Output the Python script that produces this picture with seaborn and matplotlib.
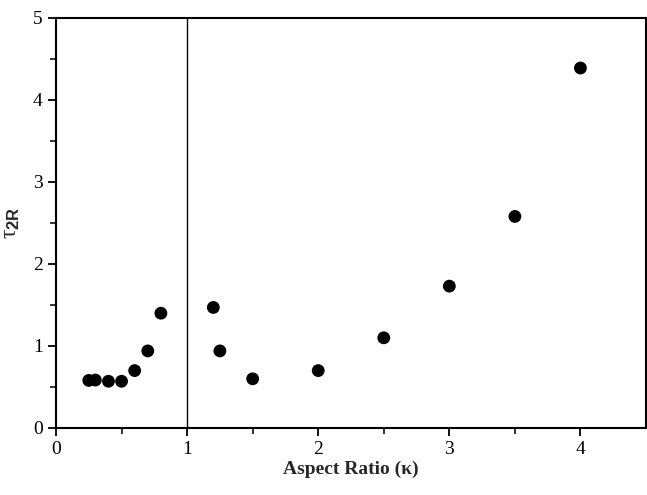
import seaborn as sns
import matplotlib.pyplot as plt
import pandas as pd

# Aspect ratio and tau_2R
aspect_ratio = [0.25, 0.3, 0.4, 0.5, 0.6, 0.7, 0.8, 1.2, 1.25, 1.5, 2.0, 2.5, 3.0, 3.5, 4.0]
tau_2r = [0.58, 0.585, 0.57, 0.57, 0.70, 0.94, 1.40, 1.47, 0.94, 0.60, 0.70, 1.10, 1.73, 2.58, 4.39]

x_ticks = [0, 1, 2, 3, 4]
y_ticks = [0, 1, 2, 3, 4, 5]

df = pd.DataFrame({"kappa": aspect_ratio, "tau": tau_2r})

sns.set_style("ticks")
plt.rcParams['font.family'] = ['Liberation Serif', 'DejaVu Serif']
plt.rcParams['mathtext.fontset'] = 'custom'
plt.rcParams['mathtext.rm'] = 'Liberation Sans'
plt.rcParams['mathtext.bf'] = 'Liberation Sans:bold'
plt.rcParams['mathtext.it'] = 'Liberation Serif:italic'

fig = plt.figure(figsize=(6.47, 4.95), dpi=100)
ax = fig.add_axes([56 / 647, 67 / 495, 590 / 647, 410 / 495])

sns.scatterplot(data=df, x="kappa", y="tau", ax=ax, color="black",
                s=85, edgecolor="none", zorder=3)

# vertical divider at kappa = 1
ax.axvline(1, color="black", lw=1.0, zorder=2)

ax.set_xlim(0, 4.5)
ax.set_ylim(0, 5)
ax.set_xticks(x_ticks)
ax.set_yticks(y_ticks)
ax.set_xticks([0.5, 1.5, 2.5, 3.5], minor=True)
ax.set_yticks([0.5, 1.5, 2.5, 3.5, 4.5], minor=True)
ax.tick_params(which="major", direction="out", length=6, width=1.3, labelsize=14, colors="black")
ax.tick_params(which="minor", direction="out", length=4, width=1.3)

for sp in ax.spines.values():
    sp.set_linewidth(1.5)
    sp.set_color("black")

ax.set_xlabel("Aspect Ratio (κ)", fontsize=14, fontweight="bold", labelpad=2)
ax.set_ylabel(r"τ$_{\mathbf{2R}}$", fontsize=17, labelpad=8)

fig.savefig("out.png", dpi=100)
